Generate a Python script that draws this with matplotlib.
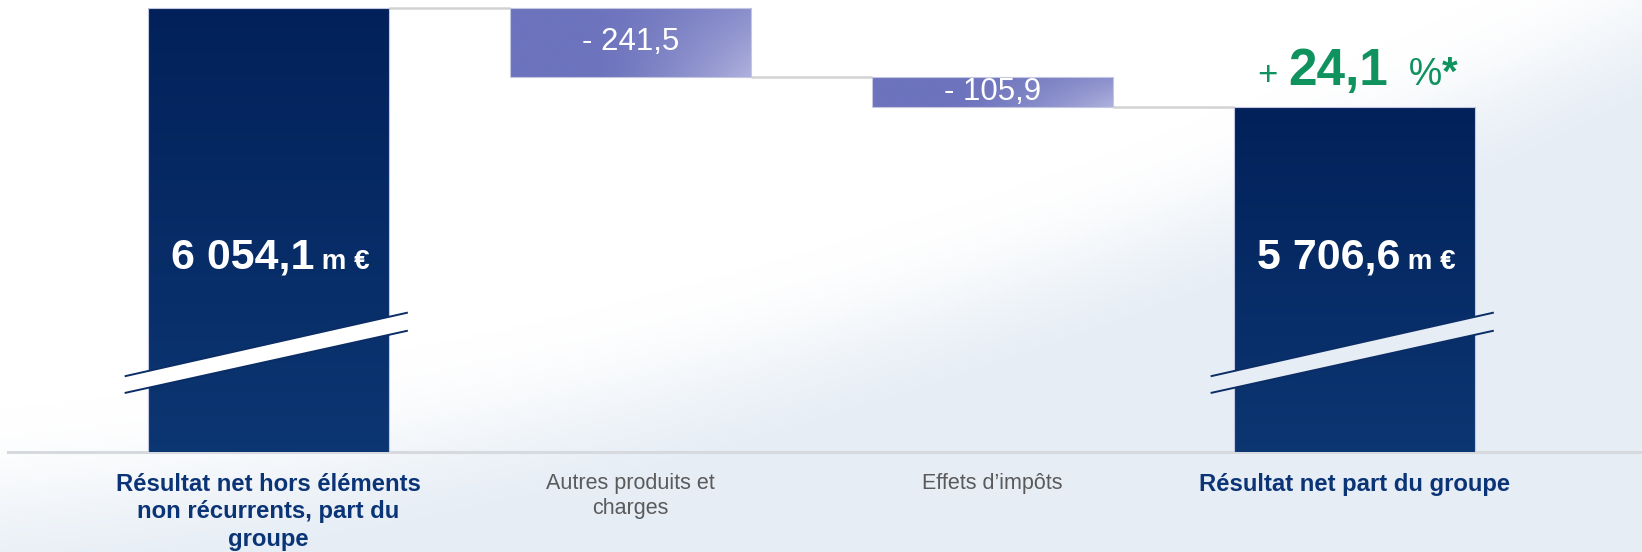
import numpy as np
import matplotlib
matplotlib.use("Agg")
import matplotlib.pyplot as plt
from matplotlib.patches import Polygon
from matplotlib.transforms import blended_transform_factory
from matplotlib.offsetbox import TextArea, HPacker, AnnotationBbox
from matplotlib.colors import to_rgb

plt.rcParams['font.family'] = ['Liberation Sans', 'DejaVu Sans']

# data
categories = ["Résultat net hors éléments\nnon récurrents, part du\ngroupe",
              "Autres produits et\ncharges",
              "Effets d’impôts",
              "Résultat net part du groupe"]
values = [6054.1, -241.5, -105.9, 5706.6]
kinds = ["total", "delta", "delta", "total"]
value_labels = ["6 054,1", "- 241,5", "- 105,9", "5 706,6"]
unit = " m €"
growth = "24,1"

NAVY_TOP = to_rgb("#02215a")
NAVY_BOT = to_rgb("#0c3672")
PURPLE = to_rgb("#6d73bd")
PURPLE_LIGHT = to_rgb("#aeb0dc")
GREEN = "#10925f"
LABEL_NAVY = "#0b3476"
LABEL_GRAY = "#5a5a5a"
BG_BLUE = np.array(to_rgb("#e6edf5"))

W, H = 1642, 552
Y_LO, Y_HI = 4495, 6082
BAR_W = 0.666


def bg_t(xp, yp):
    # soft diagonal sweep: white top-left, pale blue bottom-right (pixel coords, y down)
    edge = 450 - 0.1 * xp - 0.00012 * xp ** 2
    s = np.clip((yp - edge + 40) / 200, 0, 1)
    return s * s * (3 - 2 * s)


def bg_color(xp, yp):
    t = bg_t(xp, yp)
    return (1 - t) * np.ones(3) + t * BG_BLUE


fig = plt.figure(figsize=(W / 100, H / 100), dpi=100)

# background
bg = fig.add_axes([0, 0, 1, 1], zorder=-1)
gx, gy = np.meshgrid(np.linspace(0, W, 411), np.linspace(0, H, 139))
t = bg_t(gx, gy)[..., None]
bg.imshow((1 - t) * np.ones(3) + t * BG_BLUE, aspect='auto', extent=[0, 1, 0, 1], origin='upper')
bg.set_axis_off()

ax = fig.add_axes([0, 1 - 452 / H, 1, 452 / H])
ax.set_facecolor('none')
x = np.arange(len(values))

# waterfall geometry
bottoms, tops = [], []
running = 0
for v, k in zip(values, kinds):
    if k == "total":
        bottoms.append(0)
        tops.append(v)
        running = v
    else:
        tops.append(running)
        running += v
        bottoms.append(running)
bottoms = np.array(bottoms)
tops = np.array(tops)

bars = ax.bar(x, tops - bottoms, bottom=bottoms, width=BAR_W, color='none',
              edgecolor='#c3c7e2', linewidth=0.8, zorder=3)

# gradient fills clipped to bars
for i, (b, k) in enumerate(zip(bars, kinds)):
    x0, x1 = x[i] - BAR_W / 2, x[i] + BAR_W / 2
    y0, y1 = max(bottoms[i], Y_LO), tops[i]
    u, v = np.meshgrid(np.linspace(0, 1, 60), np.linspace(0, 1, 60))
    if k == "total":
        s = v[..., None]
        img = (1 - s) * np.array(NAVY_TOP) + s * np.array(NAVY_BOT)
    else:
        s = (np.clip((u - 0.35) / 0.65, 0, 1) ** 1.3 * (0.45 + 0.55 * v))[..., None]
        img = (1 - s) * np.array(PURPLE) + s * np.array(PURPLE_LIGHT)
    im = ax.imshow(img, extent=[x0, x1, y0, y1], origin='upper', aspect='auto', zorder=2)
    im.set_clip_path(b)

# connectors
level = np.where(np.array(kinds) == "total", tops, bottoms)
for i in range(len(values) - 1):
    ax.plot([x[i] + BAR_W / 2, x[i + 1] - BAR_W / 2], [level[i], level[i]],
            color='#d2d2d2', lw=1.8, zorder=1, solid_capstyle='butt')

# baseline
ax.plot([0.005, 1], [0, 0], transform=ax.transAxes, color='#d6d9dd', lw=2.2, clip_on=False, zorder=1)

# axis break marks on totals
bt = blended_transform_factory(ax.transData, ax.transAxes)
for i, k in enumerate(kinds):
    if k != "total":
        continue
    xl, xr = x[i] - 0.395, x[i] + 0.382
    up = (0.168, 0.308)
    lo = (0.131, 0.268)
    fc = bg_color((x[i] + 0.742) * 362, 345)
    poly = Polygon([(xl, up[0]), (xr, up[1]), (xr, lo[1]), (xl, lo[0])], closed=True,
                   transform=bt, facecolor=fc, edgecolor='none', zorder=4)
    ax.add_patch(poly)
    ax.plot([xl, xr], up, transform=bt, color='#0b2d66', lw=1.4, zorder=5)
    ax.plot([xl, xr], lo, transform=bt, color='#0b2d66', lw=1.4, zorder=5)

# value labels
for i, k in enumerate(kinds):
    if k == "total":
        box = HPacker(children=[
            TextArea(value_labels[i], textprops=dict(color='white', fontsize=31, fontweight='bold')),
            TextArea(unit, textprops=dict(color='white', fontsize=20, fontweight='bold'))],
            align='baseline', pad=0, sep=0)
        ab = AnnotationBbox(box, (x[i] + 0.005, 0.43), xycoords=bt, frameon=False,
                            box_alignment=(0.5, 0.5), zorder=6)
        ax.add_artist(ab)
    else:
        ax.text(x[i], (tops[i] + bottoms[i]) / 2, value_labels[i], color='white',
                fontsize=22.5, ha='center', va='center', zorder=6)

# growth label above final bar
gbox = HPacker(children=[
    TextArea("+ ", textprops=dict(color=GREEN, fontsize=25)),
    TextArea(growth, textprops=dict(color=GREEN, fontsize=37, fontweight='bold')),
    TextArea("  %", textprops=dict(color=GREEN, fontsize=27)),
    TextArea("*", textprops=dict(color=GREEN, fontsize=29, fontweight='bold'))],
    align='baseline', pad=0, sep=0)
ax.add_artist(AnnotationBbox(gbox, (x[-1] + 0.01, tops[-1]), xybox=(0, 8),
                             boxcoords='offset points', frameon=False,
                             box_alignment=(0.5, 0), zorder=6))

# category labels
ax.set_xticks(x)
ax.set_xticklabels(categories)
ax.tick_params(axis='x', length=0, pad=15)
for lbl, k in zip(ax.get_xticklabels(), kinds):
    if k == "total":
        lbl.set_color(LABEL_NAVY)
        lbl.set_fontweight('bold')
        lbl.set_fontsize(17.2)
    else:
        lbl.set_color(LABEL_GRAY)
        lbl.set_fontsize(15.5)
    lbl.set_linespacing(1.25)

ax.set_yticks([])
for sp in ax.spines.values():
    sp.set_visible(False)
ax.set_xlim(-0.742, 3.794)
ax.set_ylim(Y_LO, Y_HI)

fig.savefig("out.png", dpi=100)
